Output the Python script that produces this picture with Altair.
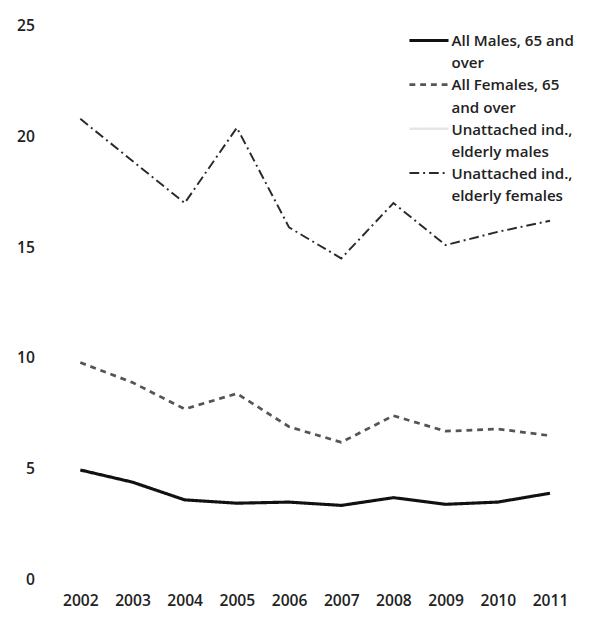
import altair as alt
import pandas as pd

years = [2002, 2003, 2004, 2005, 2006, 2007, 2008, 2009, 2010, 2011]
series_names = [
    "All Males, 65 and over",
    "All Females, 65 and over",
    "Unattached ind., elderly males",
    "Unattached ind., elderly females",
]
all_males = [4.95, 4.4, 3.6, 3.45, 3.5, 3.35, 3.7, 3.4, 3.5, 3.9]
all_females = [9.8, 8.9, 7.7, 8.4, 6.9, 6.2, 7.4, 6.7, 6.8, 6.5]
unattached_females = [20.8, 18.9, 17.0, 20.4, 15.9, 14.5, 17.0, 15.1, 15.7, 16.2]

legend_lines = [
    ["All Males, 65 and", "over"],
    ["All Females, 65", "and over"],
    ["Unattached ind.,", "elderly males"],
    ["Unattached ind.,", "elderly females"],
]
y_ticks = [0, 5, 10, 15, 20, 25]

colors = ["#111111", "#555555", "#e6e6e6", "#2a2a2a"]
dashes = [[1, 0], [6, 5], [1, 0], [10, 4, 2, 4]]
widths = [3.2, 2.0, 2.0, 2.2]

rows = []
for name, vals in [(series_names[0], all_males), (series_names[1], all_females),
                   (series_names[3], unattached_females)]:
    for yr, v in zip(years, vals):
        rows.append({"year": yr, "value": v, "series": name})
df = pd.DataFrame(rows)

color_scale = alt.Scale(domain=series_names, range=colors)
dash_scale = alt.Scale(domain=series_names, range=dashes)
width_scale = alt.Scale(domain=series_names, range=widths)

lines = alt.Chart(df).mark_line().encode(
    x=alt.X("year:Q", scale=alt.Scale(domain=[2001.494, 2011.32], nice=False, zero=False),
            axis=alt.Axis(values=years, format="d", title=None, grid=False, domain=False,
                          ticks=False, labelPadding=13)),
    y=alt.Y("value:Q", scale=alt.Scale(domain=[0, 25], nice=False),
            axis=alt.Axis(values=y_ticks, title=None, grid=False, domain=False,
                          ticks=False, labelPadding=20)),
    color=alt.Color("series:N", scale=color_scale, legend=None),
    strokeDash=alt.StrokeDash("series:N", scale=dash_scale, legend=None),
    strokeWidth=alt.StrokeWidth("series:N", scale=width_scale, legend=None),
    detail="series:N",
)

# manual legend
sym_df = pd.DataFrame({"series": series_names, "idx": list(range(len(series_names)))})
symbols = alt.Chart(sym_df).mark_rule().transform_calculate(
    ypix="15 + datum.idx * 45.2"
).encode(
    x=alt.value(364),
    x2=alt.value(404),
    y=alt.Y("ypix:Q", scale=None),
    color=alt.Color("series:N", scale=color_scale, legend=None),
    strokeDash=alt.StrokeDash("series:N", scale=dash_scale, legend=None),
    strokeWidth=alt.StrokeWidth("series:N", scale=width_scale, legend=None),
)

txt_rows = []
for i, pair in enumerate(legend_lines):
    for j, t in enumerate(pair):
        txt_rows.append({"text": t, "line": i * 2 + j})
txt_df = pd.DataFrame(txt_rows)
texts = alt.Chart(txt_df).mark_text(
    align="left", baseline="middle", font="Open Sans", fontSize=15.5, fontWeight=600,
    color="#222222"
).transform_calculate(
    ypix="16 + datum.line * 22.6"
).encode(
    x=alt.value(407),
    y=alt.Y("ypix:Q", scale=None),
    text="text:N",
)

chart = alt.layer(lines, symbols, texts).properties(
    width=525, height=567,
    autosize=alt.AutoSizeParams(type="none"),
    padding={"left": 47, "top": 11, "right": 30, "bottom": 30},
).configure_view(stroke=None).configure_axis(
    labelFont="Open Sans", labelFontSize=16, labelFontWeight=600, labelColor="#222222"
)

chart.save("out.html", embed_options={"renderer": "svg", "actions": False})
